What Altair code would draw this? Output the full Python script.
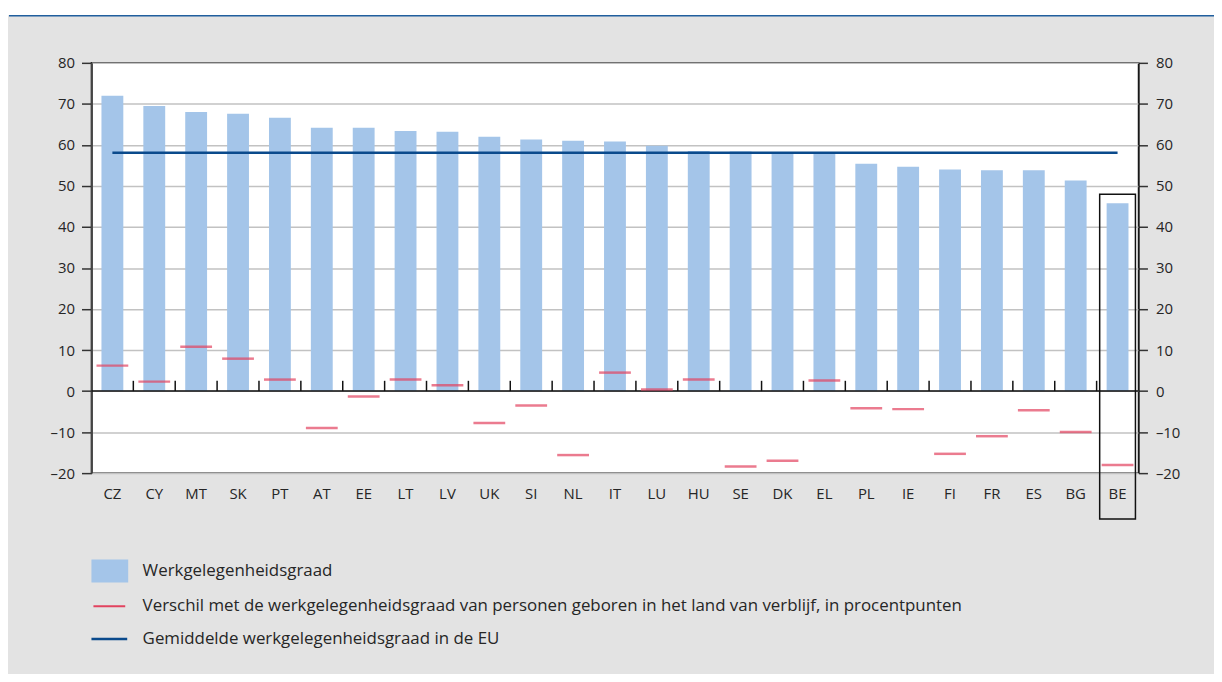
import altair as alt
import pandas as pd

# ---- data ----
countries = ["CZ", "CY", "MT", "SK", "PT", "AT", "EE", "LT", "LV", "UK", "SI", "NL", "IT",
             "LU", "HU", "SE", "DK", "EL", "PL", "IE", "FI", "FR", "ES", "BG", "BE"]
employment_rate = [72.0, 69.5, 68.0, 67.6, 66.6, 64.2, 64.2, 63.4, 63.2, 62.0, 61.3, 61.0, 60.8,
                   59.8, 58.5, 58.4, 58.3, 58.2, 55.4, 54.7, 54.0, 53.8, 53.8, 51.3, 45.8]
difference = [6.2, 2.3, 10.8, 7.9, 2.8, -9.0, -1.3, 2.8, 1.4, -7.8, -3.5, -15.6, 4.5,
              0.4, 2.8, -18.4, -17.0, 2.6, -4.2, -4.4, -15.3, -11.0, -4.7, -10.0, -18.0]
eu_average = 58.1
y_ticks = [-20, -10, 0, 10, 20, 30, 40, 50, 60, 70, 80]
highlight = ["BE"]
highlight_top = 48
highlight_bottom = -31.2
legend_labels = [
    "Werkgelegenheidsgraad",
    "Verschil met de werkgelegenheidsgraad van personen geboren in het land van verblijf, in procentpunten",
    "Gemiddelde werkgelegenheidsgraad in de EU",
]

W, H = 1054, 413
FONT = "Open Sans"
TXT = "#262626"
BAR = "#a4c5e9"
RED = "#e2435f"
NAVY = "#0a4a8c"

df = pd.DataFrame({"country": countries, "rate": employment_rate, "diff": difference,
                   "eu": [eu_average] * len(countries)})
bounds = pd.DataFrame({"country": countries[1:]})
hl = pd.DataFrame({"country": highlight, "top": [highlight_top], "bottom": [highlight_bottom]})
zero = pd.DataFrame({"v": [0]})
one = pd.DataFrame({"a": [0]})

xs = alt.Scale(domain=countries, paddingInner=0, paddingOuter=0)
ys = alt.Scale(domain=[-20, 80], nice=False, zero=False)
lab_expr = "datum.value < 0 ? '\u2013' + abs(datum.value) : '' + datum.value"

left_axis = alt.Axis(orient="left", values=y_ticks, grid=True, gridColor="#c2c2c2", gridWidth=1.5,
                     tickColor="#333", tickSize=10, tickWidth=1.5, domainColor="#444", domainWidth=2,
                     labelFontSize=15, labelColor=TXT, labelPadding=7, labelExpr=lab_expr, title=None)
right_axis = alt.Axis(orient="right", values=y_ticks, grid=False, tickColor="#333", tickSize=9,
                      tickWidth=1.5, domainColor="#111", domainWidth=1.2, labelFontSize=15,
                      labelColor=TXT, labelPadding=8, labelExpr=lab_expr, title=None)
x_axis = alt.Axis(orient="bottom", ticks=False, domain=False, grid=False, labelAngle=0,
                  labelPadding=14, labelFontSize=15, labelColor=TXT, title=None)

bars = alt.Chart(df).mark_bar(color=BAR, width=22).encode(
    x=alt.X("country:N", scale=xs, axis=x_axis, sort=countries),
    y=alt.Y("rate:Q", scale=ys, axis=left_axis),
)

zero_rule = alt.Chart(zero).mark_rule(color="#111", strokeWidth=1.5).encode(
    x=alt.value(0), x2=alt.value(W),
    y=alt.Y("v:Q", scale=ys, axis=right_axis),
)

bound_ticks = alt.Chart(bounds).mark_rule(color="#111", strokeWidth=1.5).encode(
    x=alt.X("country:N", scale=xs, axis=None, bandPosition=0),
    y=alt.YDatum(0, scale=ys, axis=None), y2=alt.Y2Datum(2.5),
)

eu_line = alt.Chart(df).mark_line(color=NAVY, strokeWidth=2.5).encode(
    x=alt.X("country:N", scale=xs, axis=None),
    y=alt.Y("eu:Q", scale=ys, axis=None),
)

red_ticks = alt.Chart(df).mark_tick(color=RED, size=32, thickness=2.5).encode(
    x=alt.X("country:N", scale=xs, axis=None),
    y=alt.Y("diff:Q", scale=ys, axis=None),
)

box = alt.Chart(hl).mark_bar(filled=False, stroke="#111", strokeWidth=1.5, width=36, clip=False).encode(
    x=alt.X("country:N", scale=xs, axis=None),
    y=alt.Y("top:Q", scale=ys, axis=None),
    y2="bottom:Q",
)

# page decoration: white strip + blue rule at top
white_strip = alt.Chart(one).mark_rect(color="white").encode(
    x=alt.value(-90), x2=alt.value(W + 80), y=alt.value(-60), y2=alt.value(-48))
top_rule = alt.Chart(one).mark_rule(color="#205f9e", strokeWidth=1.6).encode(
    x=alt.value(-83), x2=alt.value(W + 80), y=alt.value(-47.4))

# legend
leg_swatch = alt.Chart(one).mark_rect(color=BAR).encode(
    x=alt.value(0), x2=alt.value(37), y=alt.value(500), y2=alt.value(523))
leg_red = alt.Chart(one).mark_rule(color=RED, strokeWidth=2).encode(
    x=alt.value(2), x2=alt.value(34), y=alt.value(547))
leg_navy = alt.Chart(one).mark_rule(color=NAVY, strokeWidth=2.5).encode(
    x=alt.value(0), x2=alt.value(36), y=alt.value(580))
leg_text = [
    alt.Chart(one).mark_text(align="left", baseline="middle", fontSize=17, color=TXT).encode(
        x=alt.value(51.5), y=alt.value(yy), text=alt.value(t))
    for t, yy in zip(legend_labels, [512, 547, 580])
]

chart = alt.layer(
    white_strip, top_rule, bars, zero_rule, bound_ticks, eu_line, red_ticks, box,
    leg_swatch, leg_red, leg_navy, *leg_text,
).resolve_axis(y="independent", x="independent").properties(
    width=W, height=H,
    autosize=alt.AutoSizeParams(type="none"),
    padding={"left": 84, "top": 53, "right": 76, "bottom": 200},
    background="#e3e3e3",
).configure(font=FONT).configure_view(stroke="#222", strokeWidth=1.5, fill="white")

chart.save("out.html", embed_options={"renderer": "svg", "actions": False})
